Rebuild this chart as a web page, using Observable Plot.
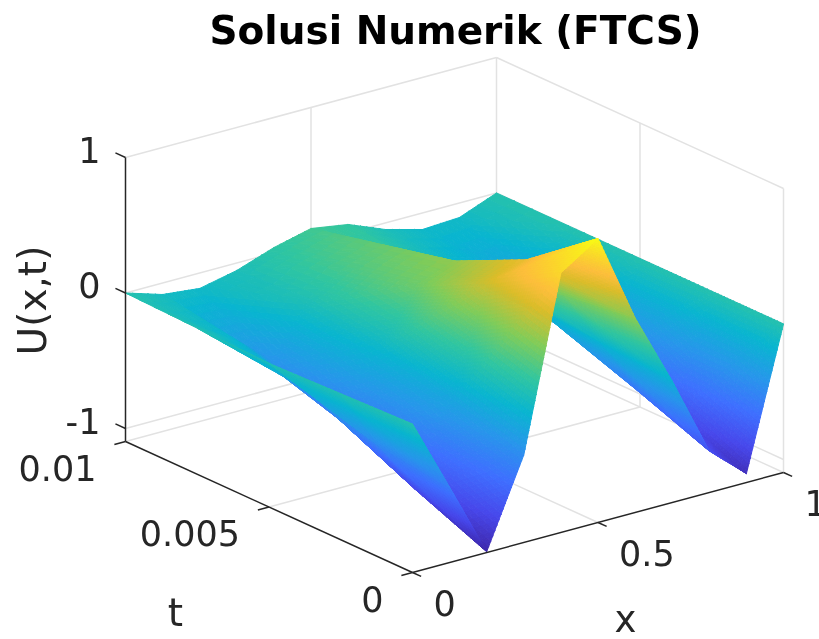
<!DOCTYPE html>
<html><head><meta charset="utf-8">
<script src="https://cdn.jsdelivr.net/npm/d3@7"></script>
<script src="https://cdn.jsdelivr.net/npm/@observablehq/plot@0.6"></script>
<style>html,body{margin:0;padding:0;background:#fff;overflow:hidden}svg{display:block;filter:blur(0.45px)}</style>
</head><body><div id="chart"></div>
<script>
const titleText = "Solusi Numerik (FTCS)";
const xGrid = [0,0.1,0.2,0.3,0.4,0.5,0.6,0.7,0.8,0.9,1];
const tGrid = [0,0.0025,0.005,0.0075,0.01];
const U_t0     = [0,-0.54,-1.09,-0.45,0.82,1.00,0.34,-0.20,-0.79,-1.03,0];
const U_t0025  = [-0.018,-0.47,-0.87,-0.28,0.52,0.60,0.27,-0.15,-0.586,-0.80,0];
const U_t005   = [-0.036,-0.30,-0.62,-0.12,0.25,0.35,0.20,-0.10,-0.37,-0.55,0];
const U_t0075  = [-0.018,-0.17,-0.41,-0.02,0.14,0.228,0.02,-0.12,-0.22,-0.30,0];
const U_t01    = [0,-0.085,-0.114,-0.055,0.04,0.107,0.063,-0.048,-0.122,-0.107,0];
const xTicks = [0,0.5,1], tTicks = [0,0.005,0.01], zTicks = [-1,0,1];
const xLabels = ["0","0.5","1"], tLabels = ["0","0.005","0.01"], zLabels = ["-1","0","1"];
const xLim=[0,1], tLim=[0,0.01], zLim=[-1.096,1];
const parulaPos = [0,7,14,21,28,35,42,49,53,56,63].map(d=>d/63);
const parulaHex = ["#3e26a8","#4747eb","#3e6fff","#2796eb","#08b5d0","#31c69f","#80cc59","#dcbd29","#febe3c","#fccf30","#f9fb15"];

const rows = [U_t0,U_t0025,U_t005,U_t0075,U_t01];
const view = {ox:412, oy:572, xx:371, xy:-100, tx:-287, ty:-131, zy:-135.5};
const px = (x,t,z)=> view.ox + view.xx*x + view.tx*t/0.01;
const py = (x,t,z)=> view.oy + view.xy*x + view.ty*t/0.01 + view.zy*(z-zLim[0]);
const pt = (x,t,z)=>({sx:px(x,t,z), sy:py(x,t,z)});
const seg = (a,b)=>({x1:a.sx,y1:a.sy,x2:b.sx,y2:b.sy});

const poly=[]; let id=0;
function tri(a,b,c){
  const span=Math.max(a[2],b[2],c[2])-Math.min(a[2],b[2],c[2]);
  const N=Math.max(4,Math.min(30,Math.ceil(span*28)));
  const P=(i,j)=>{const w=1-(i+j)/N,u=i/N,v=j/N;return{
    x:w*a[0]+u*b[0]+v*c[0],t:w*a[1]+u*b[1]+v*c[1],z:w*a[2]+u*b[2]+v*c[2]}};
  const emit=(p,q,r)=>{const u=(p.z+q.z+r.z)/3;id++;
    for(const s of [p,q,r,p]) poly.push({id,u,...pt(s.x,s.t,s.z)});};
  for(let i=0;i<N;i++)for(let j=0;j<N-i;j++){
    emit(P(i,j),P(i+1,j),P(i,j+1));
    if(i+j<N-1) emit(P(i+1,j),P(i+1,j+1),P(i,j+1));
  }
}
for(let i=xGrid.length-2;i>=0;i--)for(let j=tGrid.length-2;j>=0;j--){
  const A=[xGrid[i],tGrid[j],rows[j][i]],B=[xGrid[i+1],tGrid[j],rows[j][i+1]],
        C=[xGrid[i],tGrid[j+1],rows[j+1][i]],D=[xGrid[i+1],tGrid[j+1],rows[j+1][i+1]];
  tri(D,B,C); tri(A,B,C);
}

const [x0,x1]=xLim,[t0,t1]=tLim,[z0,z1]=zLim;
const grid=[];
for(const z of [z0,...zTicks]){
  grid.push(seg(pt(x0,t1,z),pt(x1,t1,z)));
  grid.push(seg(pt(x1,t1,z),pt(x1,t0,z)));
}
grid.push(seg(pt(x1,t1,z0),pt(x1,t1,z1)));
grid.push(seg(pt(x1,t0,z0),pt(x1,t0,z1)));
grid.push(seg(pt(0.5,t1,z0),pt(0.5,t1,z1)));
grid.push(seg(pt(x1,0.005,z0),pt(x1,0.005,z1)));
grid.push(seg(pt(0.5,t0,z0),pt(0.5,t1,z0)));
grid.push(seg(pt(x0,0.005,z0),pt(x1,0.005,z0)));

const axes=[seg(pt(x0,t0,z0),pt(x1,t0,z0)),seg(pt(x0,t0,z0),pt(x0,t1,z0)),seg(pt(x0,t1,z0),pt(x0,t1,z1))];
const ticks=[
  ...xTicks.map(v=>seg(pt(v,t0,z0),pt(v,-0.0003,z0))),
  ...tTicks.map(v=>seg(pt(x0,v,z0),pt(-0.03,v,z0))),
  ...zTicks.map(v=>seg(pt(x0,t1,v),pt(x0,t1+0.00035,v)))
];
const xL=xTicks.map((v,i)=>({...pt(v,t0,z0),s:xLabels[i]}));
const tL=tTicks.map((v,i)=>({...pt(x0,v,z0),s:tLabels[i]}));
const zL=zTicks.map((v,i)=>({...pt(x0,t1,v),s:zLabels[i]}));
const font="DejaVu Sans", ink="#262626", fs=35;
const lab=(d,o)=>Plot.text(d,{x:"sx",y:"sy",text:"s",fontFamily:font,fontSize:fs,fill:ink,...o});

const chart=Plot.plot({
  width:819,height:639,margin:0,
  x:{domain:[0,819],range:[0,819],axis:null},
  y:{domain:[0,639],range:[0,639],axis:null},
  color:{type:"linear",domain:parulaPos.map(p=>z0+p*(z1-z0)),range:parulaHex,interpolate:"rgb",clamp:true},
  marks:[
    Plot.link(grid,{x1:"x1",y1:"y1",x2:"x2",y2:"y2",stroke:"#e2e2e2",strokeWidth:1.5}),
    Plot.line(poly,{x:"sx",y:"sy",z:"id",fill:"u",stroke:"u",strokeWidth:1,curve:"linear"}),
    Plot.link(axes,{x1:"x1",y1:"y1",x2:"x2",y2:"y2",stroke:ink,strokeWidth:1.5}),
    Plot.link(ticks,{x1:"x1",y1:"y1",x2:"x2",y2:"y2",stroke:ink,strokeWidth:1.5}),
    lab(xL,{textAnchor:"start",dx:21,dy:32}),
    lab(tL,{textAnchor:"end",dx:-29,dy:28}),
    lab(zL,{textAnchor:"end",dx:-25,dy:-6}),
    Plot.text([titleText],{x:()=>455,y:()=>31,text:d=>d,fontFamily:font,fontWeight:"bold",fontSize:39,fill:"#000"}),
    Plot.text(["x"],{x:()=>625,y:()=>620,text:d=>d,fontFamily:font,fontSize:37,fill:ink}),
    Plot.text(["t"],{x:()=>175,y:()=>613,text:d=>d,fontFamily:font,fontSize:39,fill:ink}),
    Plot.text(["U(x,t)"],{x:()=>33,y:()=>300,text:d=>d,rotate:-90,fontFamily:font,fontSize:39,fill:ink})
  ]
});
document.getElementById("chart").append(chart);
</script></body></html>
